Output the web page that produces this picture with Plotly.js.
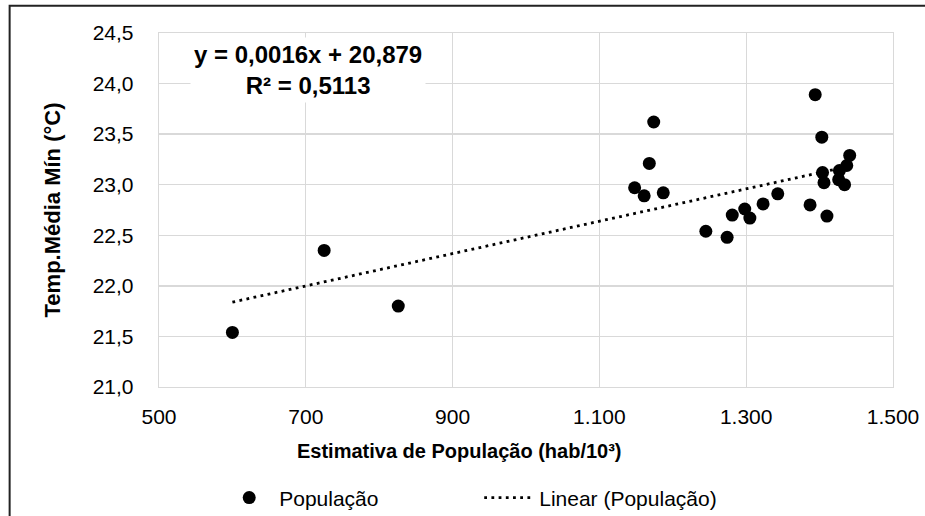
<!DOCTYPE html>
<html>
<head>
<meta charset="utf-8">
<script src="https://cdn.plot.ly/plotly-3.0.1.min.js"></script>
<style>
  html, body { margin: 0; padding: 0; background: #ffffff; overflow: hidden; }
  #chart { width: 925px; height: 516px; }
</style>
</head>
<body>
<div id="chart"></div>
<script>
// ---- Data ----
const popX = [600, 725, 826, 1174, 1168, 1148, 1161, 1187, 1245, 1274, 1281, 1298, 1305,
              1323, 1343, 1387, 1410, 1394, 1403, 1441, 1404, 1406, 1427, 1437, 1426, 1434];
const tempY = [21.54, 22.35, 21.80, 23.62, 23.21, 22.97, 22.89, 22.92, 22.54, 22.48, 22.70, 22.76, 22.67,
               22.81, 22.91, 22.80, 22.69, 23.89, 23.47, 23.29, 23.12, 23.02, 23.14, 23.19, 23.05, 23.00];

// Trendline as printed on the chart
const slope = 0.0016;
const intercept = 20.879;
const rSquared = 0.5113;

const seriesName = "População";
const trendName = "Linear (População)";
const xTitle = "Estimativa de População (hab/10³)";
const yTitle = "Temp.Média Mín (°C)";

// ---- Build traces ----
const xMin = Math.min(...popX), xMax = Math.max(...popX);
const trendX = [xMin, xMax];
const trendY = trendX.map(x => slope * x + intercept);

const fmt = (v, d) => v.toFixed(d).replace('.', ',');
const eqText = "y = " + fmt(slope, 4) + "x + " + fmt(intercept, 3) + "<br>R² = " + fmt(rSquared, 4);

const FONT = "Liberation Sans, Arial, sans-serif";
const GRID = "#d9d9d9";

const traces = [
  {
    type: "scatter", mode: "markers", name: seriesName,
    x: popX, y: tempY,
    marker: { color: "#000000", size: 13 },
    cliponaxis: false
  },
  {
    type: "scatter", mode: "lines", name: trendName,
    x: trendX, y: trendY,
    line: { color: "#000000", width: 2.8, dash: "2.8px,4.4px" }
  }
];

const layout = {
  width: 925, height: 516,
  margin: { l: 159, r: 32, t: 33, b: 129, autoexpand: false },
  paper_bgcolor: "#ffffff", plot_bgcolor: "#ffffff",
  separators: ",.",
  font: { family: FONT, color: "#000000", size: 21 },
  xaxis: {
    range: [500, 1500], dtick: 200, tick0: 500,
    tickformat: ",d",
    showgrid: true, gridcolor: GRID, gridwidth: 1.3,
    showline: true, linecolor: GRID, linewidth: 1.3, mirror: true,
    zeroline: false, ticks: "", ticklabelstandoff: 10,
    tickfont: { family: FONT, size: 21, color: "#000000" }
  },
  yaxis: {
    range: [21, 24.5], dtick: 0.5, tick0: 21,
    tickformat: ".1f",
    showgrid: true, gridcolor: GRID, gridwidth: 1.3,
    showline: true, linecolor: GRID, linewidth: 1.3, mirror: true,
    zeroline: false, ticks: "", ticklabelstandoff: 20,
    tickfont: { family: FONT, size: 21, color: "#000000" },
    title: { text: yTitle, font: { family: FONT, size: 22, color: "#000000", weight: "bold" }, standoff: 26 }
  },
  showlegend: true,
  legend: {
    orientation: "h", xref: "container", yref: "container",
    x: 0.237, xanchor: "left", y: 0.035, yanchor: "middle",
    font: { family: FONT, size: 21, color: "#000000" },
    bgcolor: "rgba(0,0,0,0)", itemwidth: 50,
    entrywidth: 195, entrywidthmode: "pixels"
  },
  annotations: [
    {
      xref: "paper", yref: "paper", x: 0.2025, y: 0.895, xanchor: "center", yanchor: "middle",
      text: eqText, showarrow: false, align: "center",
      font: { family: FONT, size: 24, color: "#000000", weight: "bold" },
      bgcolor: "#ffffff", borderpad: 3
    },
    {
      // horizontal axis title (centred on the chart area as in the reference)
      xref: "paper", yref: "paper", x: 0.4096, y: -0.182, xanchor: "center", yanchor: "middle",
      text: xTitle, showarrow: false,
      font: { family: FONT, size: 20, color: "#000000", weight: "bold" }
    }
  ],
  shapes: [
    {
      type: "rect", xref: "paper", yref: "paper",
      x0: -0.2035, x1: 1.2, y0: -0.6, y1: 1.077,
      line: { color: "#222222", width: 2 }, fillcolor: "rgba(0,0,0,0)", layer: "above"
    }
  ]
};

Plotly.newPlot("chart", traces, layout, { displayModeBar: false, staticPlot: true });
</script>
</body>
</html>
